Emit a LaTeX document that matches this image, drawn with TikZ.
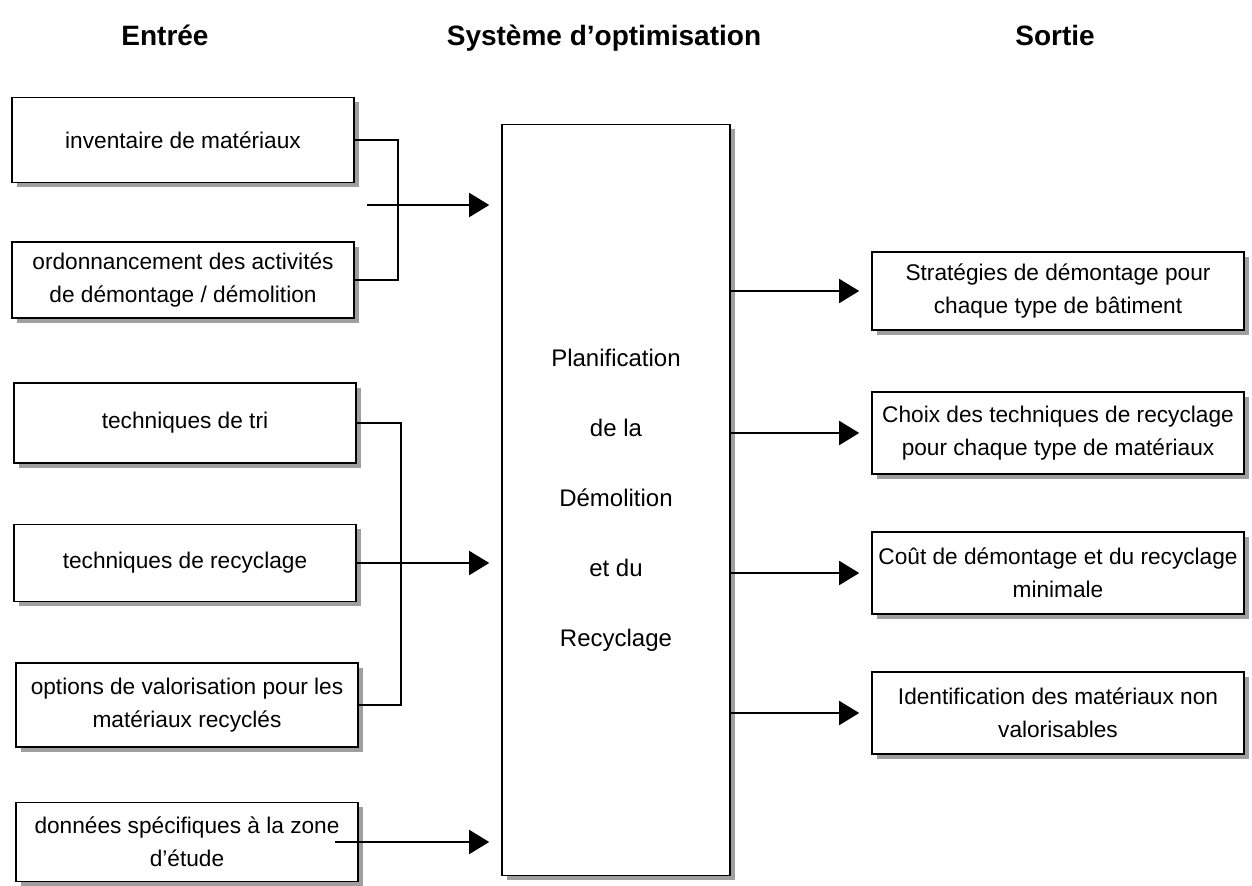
\documentclass[tikz,border=0pt]{standalone}
\usepackage{fontspec}
\setmainfont{Liberation Sans}
\usepackage{tikz}
\usetikzlibrary{arrows.meta}
\usetikzlibrary{shadows}
\usetikzlibrary{positioning}

\tikzset{
  inbox/.style={draw,line width=1.2pt,fill=white,align=center,minimum width=256.5pt,
    font=\fontsize{17}{25}\selectfont,
    drop shadow={shadow xshift=3.5pt,shadow yshift=-3.5pt,fill=gray!75,opacity=1}},
  outbox/.style={inbox,minimum width=279pt},
  planbox/.style={inbox,minimum width=171pt,minimum height=563pt,
    font=\fontsize{18}{52.5}\selectfont},
  coltitle/.style={font=\fontsize{21}{25}\selectfont\bfseries,anchor=base},
  link/.style={line width=1.3pt},
  feed/.style={link,-{Triangle[length=15pt,width=18pt]},shorten >=9pt}
}

\begin{document}
\begin{tikzpicture}[x=0.75pt,y=-0.75pt]
\useasboundingbox (0,0) rectangle (1252,885);

\node[coltitle] (tin) at (165,45) {Entrée};
\node[coltitle] (tsys) at (604,45) {Système d'optimisation};
\node[coltitle] (tout) at (1055,45) {Sortie};

\node[planbox] (plan) at (616,500) {Planification\\de la\\Démolition\\et du\\Recyclage};

\node[inbox,minimum height=63.75pt] (in1) at (183,140) {inventaire de matériaux};
\node[inbox,minimum height=57pt] (in2) at (183,280) {ordonnancement des activités\\de démontage / démolition};
\node[inbox,minimum height=60pt] (in3) at (185,423) {techniques de tri};
\node[inbox,minimum height=57.75pt] (in4) at (185,563) {techniques de recyclage};
\node[inbox,minimum height=63pt] (in5) at (187,705) {options de valorisation pour les\\matériaux recyclés};
\node[inbox,minimum height=59pt] (in6) at (187,842) {données spécifiques à la zone\\d'étude};

\node[outbox,minimum height=58.5pt] (out1) at (1058,291) {Stratégies de démontage pour\\chaque type de bâtiment};
\node[outbox,minimum height=61.5pt] (out2) at (1058,433) {Choix des techniques de recyclage\\pour chaque type de matériaux};
\node[outbox,minimum height=61.5pt] (out3) at (1058,573) {Coût de démontage et du recyclage\\minimale};
\node[outbox,minimum height=61.5pt] (out4) at (1058,713) {Identification des matériaux non\\valorisables};

\draw[link] (in1.east) -- ++(43,0) |- (in2.east);
\coordinate (j1) at (367,205);
\draw[feed] (j1) -- (plan.west |- j1);

\draw[link] (in3.east) -- ++(44,0) |- (in5.east);
\draw[feed] (in4.east) -- (plan.west |- in4.east);
\draw[feed] ([xshift=-18pt]in6.east) -- (plan.west |- in6.east);

\foreach \o in {out1,out2,out3,out4}
  \draw[feed] (plan.east |- \o.west) -- (\o.west);

\end{tikzpicture}
\end{document}
